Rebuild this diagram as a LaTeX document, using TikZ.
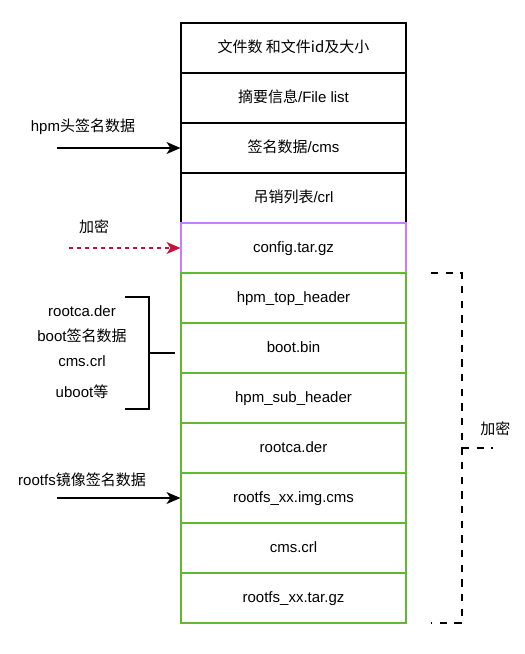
\documentclass[tikz,border=0pt]{standalone}
\usepackage{fontspec}
\setmainfont{Liberation Sans}
\newfontfamily\cjk{Noto Sans CJK SC}
\usetikzlibrary{arrows.meta}
\definecolor{cfgpurple}{HTML}{C77DFF}
\definecolor{imggreen}{HTML}{60B830}
\definecolor{encred}{HTML}{C8103C}
\tikzset{
  blk/.style={draw,line width=0.8pt,minimum width=168.75pt,minimum height=37.5pt,inner sep=0pt,text height=8.2pt,text depth=2.2pt},
  lbl/.style={inner sep=0pt},
  bracket/.style={line width=1.5pt},
  dbracket/.style={line width=1.5pt,dash pattern=on 5.5pt off 5.5pt}
}
\begin{document}
\begin{tikzpicture}[x=0.75pt,y=-0.75pt,font=\fontsize{11.25}{13}\selectfont,line cap=butt,line join=miter,>={Stealth[length=10.5pt,width=9pt,inset=3pt]}]
\useasboundingbox (0,0) rectangle (525,654);
% header part
\node[blk] (n1) at (293.5,48) {\cjk 文件数 和文件id及大小};
\node[blk] (n2) at (293.5,98) {{\cjk 摘要信息}/File list};
\node[blk] (n3) at (293.5,148) {{\cjk 签名数据}/cms};
\node[blk] (n4) at (293.5,198) {{\cjk 吊销列表}/crl};
% encrypted part
\node[blk,draw=cfgpurple] (n5) at (293.5,248) {config.tar.gz};
\node[blk,draw=imggreen] (n6) at (293.5,298) {hpm\_top\_header};
\node[blk,draw=imggreen] (n7) at (293.5,348) {boot.bin};
\node[blk,draw=imggreen] (n8) at (293.5,398) {hpm\_sub\_header};
\node[blk,draw=imggreen] (n9) at (293.5,448) {rootca.der};
\node[blk,draw=imggreen] (n10) at (293.5,498) {rootfs\_xx.img.cms};
\node[blk,draw=imggreen] (n11) at (293.5,548) {cms.crl};
\node[blk,draw=imggreen] (n12) at (293.5,598) {rootfs\_xx.tar.gz};
% inputs on the left
\node[lbl] (hpmsig) at (83,127) {hpm{\cjk 头签名数据}};
\coordinate (hpmsrc) at (57,148);
\draw[line width=0.8pt,->] (hpmsrc) -- (n3.west);
\node[lbl] (enc1) at (94,227) {\cjk 加密};
\coordinate (encsrc) at (69,248);
\draw[line width=0.8pt,encred,dash pattern=on 3pt off 3pt,->] (encsrc) -- (n5.west);
\node[lbl] (rfsig) at (82,480) {rootfs{\cjk 镜像签名数据}};
\coordinate (rfsrc) at (57,498);
\draw[line width=0.8pt,->] (rfsrc) -- (n10.west);
% boot group
\node[lbl] (g1) at (82,311) {rootca.der};
\node[lbl] (g2) at (82,336) {boot{\cjk 签名数据}};
\node[lbl] (g3) at (82,361) {cms.crl};
\node[lbl] (g4) at (82,392) {uboot{\cjk 等}};
\draw[bracket] (125,297) -- (149,297) -- (149,409) -- (125,409);
\draw[bracket] (149,353) -- (175,353);
% encrypted range on the right
\draw[dbracket] (431,273) -- (462,273) -- (462,623) -- (431,623);
\draw[dbracket] (462,448) -- (493,448);
\node[lbl,anchor=west] (enc2) at (480,429) {\cjk 加密};
\end{tikzpicture}
\end{document}
